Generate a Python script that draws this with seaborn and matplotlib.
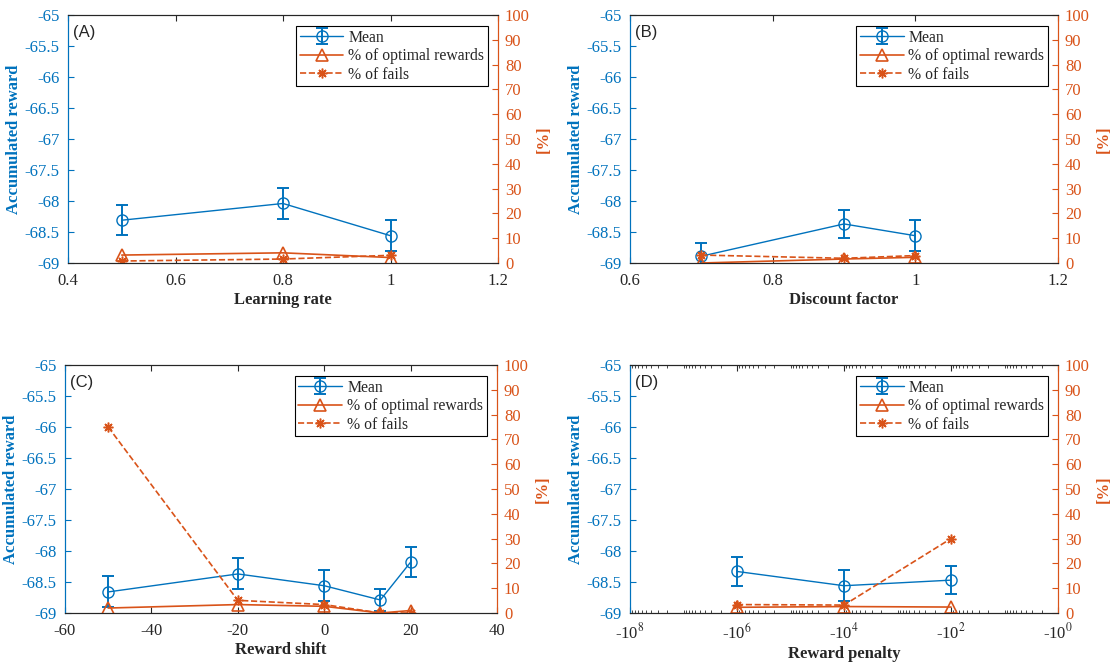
import matplotlib.pyplot as plt
import numpy as np
import seaborn as sns
from matplotlib.ticker import FixedLocator, NullFormatter

BLUE = '#0072BD'
ORANGE = '#D95319'

# (A) learning rate
lr_x = [0.5, 0.8, 1.0]
lr_mean = [-68.31, -68.04, -68.56]
lr_err = [0.245, 0.245, 0.25]
lr_optimal = [3.2, 4.1, 2.2]
lr_fails = [0.8, 1.6, 3.1]

# (B) discount factor
df_x = [0.7, 0.9, 1.0]
df_mean = [-68.89, -68.37, -68.56]
df_err = [0.21, 0.23, 0.25]
df_optimal = [0.0, 1.6, 2.3]
df_fails = [3.2, 1.9, 3.0]

# (C) reward shift
rs_x = [-50, -20, 0, 13, 20]
rs_mean = [-68.66, -68.37, -68.56, -68.79, -68.18]
rs_err = [0.25, 0.25, 0.25, 0.17, 0.24]
rs_optimal = [2.0, 3.4, 2.7, 0.0, 1.0]
rs_fails = [75.0, 5.1, 3.4, 0.0, 0.0]

# (D) reward penalty
rp_x = [-1e6, -1e4, -1e2]
rp_mean = [-68.33, -68.56, -68.47]
rp_err = [0.23, 0.25, 0.23]
rp_optimal = [2.3, 2.6, 2.4]
rp_fails = [3.4, 3.2, 30.0]

sns.set_style('ticks')
plt.rcParams['font.family'] = ['Liberation Serif', 'DejaVu Serif']
plt.rcParams['mathtext.fontset'] = 'stix'
plt.rcParams['axes.unicode_minus'] = False

fig = plt.figure(figsize=(11.14, 6.66), dpi=100)

# axes boxes in figure fractions (pixels / figure size)
positions = [
    [68 / 1114, 403 / 666, 430 / 1114, 248 / 666],
    [630 / 1114, 403 / 666, 428 / 1114, 248 / 666],
    [65 / 1114, 53 / 666, 432 / 1114, 248 / 666],
    [630 / 1114, 53 / 666, 428 / 1114, 248 / 666],
]


def neg_log(x):
    with np.errstate(divide='ignore', invalid='ignore'):
        return -np.log10(np.clip(-np.asarray(x, dtype=float), 1e-300, None))


def neg_log_inv(y):
    return -10.0 ** (-np.asarray(y, dtype=float))


def draw_panel(pos, tag, xlabel, x, mean, err, optimal, fails, log_x=False):
    ax = fig.add_axes(pos)
    ax2 = ax.twinx()

    if log_x:
        ax.set_xscale('function', functions=(neg_log, neg_log_inv))

    eb = ax.errorbar(x, mean, yerr=err, fmt='-o', color=BLUE, mfc='none',
                     mec=BLUE, ms=8, lw=1, elinewidth=1.4, capsize=4,
                     capthick=1.4)
    sns.lineplot(x=x, y=optimal, ax=ax2, color=ORANGE, lw=1.2,
                 marker='^', ms=9, mfc='none', mec=ORANGE, mew=1.2,
                 label='% of optimal rewards', legend=False)
    sns.lineplot(x=x, y=fails, ax=ax2, color=ORANGE, lw=1.2,
                 linestyle='--', marker=(8, 2, 0), ms=7, mec=ORANGE,
                 mew=1.1, label='% of fails', legend=False)

    ax.set_ylim(-69, -65)
    ax.set_yticks(np.arange(-69, -64.9, 0.5))
    ax.set_yticklabels(['%g' % v for v in np.arange(-69, -64.9, 0.5)])
    ax2.set_ylim(0, 100)
    ax2.set_yticks(np.arange(0, 101, 10))

    if log_x:
        major = [-1e8, -1e6, -1e4, -1e2, -1]
        ax.set_xlim(-1e8, -1)
        ax.xaxis.set_major_locator(FixedLocator(major))
        ax.set_xticklabels([r'-10$^{%d}$' % p for p in [8, 6, 4, 2, 0]])
        minor = [-k * 10.0 ** d for d in range(0, 8) for k in range(2, 10)]
        minor += [-10.0 ** d for d in [1, 3, 5, 7]]
        ax.xaxis.set_minor_locator(FixedLocator(minor))
        ax.xaxis.set_minor_formatter(NullFormatter())
    elif tag == '(A)':
        ax.set_xlim(0.4, 1.2)
        ax.set_xticks([0.4, 0.6, 0.8, 1.0, 1.2])
        ax.set_xticklabels(['0.4', '0.6', '0.8', '1', '1.2'])
    elif tag == '(B)':
        ax.set_xlim(0.6, 1.2)
        ax.set_xticks([0.6, 0.8, 1.0, 1.2])
        ax.set_xticklabels(['0.6', '0.8', '1', '1.2'])
    else:
        ax.set_xlim(-60, 40)
        ax.set_xticks(np.arange(-60, 41, 20))

    ax.set_xlabel(xlabel, fontsize=12, fontweight='bold', color='#262626',
                  labelpad=2)
    ax.set_ylabel('Accumulated reward', fontsize=12, fontweight='bold',
                  color=BLUE, labelpad=2)
    ax2.set_ylabel('[%]', fontsize=12, fontweight='bold', color=ORANGE,
                   labelpad=4)

    ax.tick_params(axis='x', direction='in', top=True, bottom=True,
                   labelsize=12, colors='#262626', length=4, width=0.8,
                   pad=7)
    ax.tick_params(axis='x', which='minor', direction='in', top=True,
                   bottom=True, length=2.5, width=0.6)
    ax.tick_params(axis='y', direction='in', left=True, right=False,
                   labelsize=12, colors=BLUE, length=4, width=0.8, pad=6)
    ax2.tick_params(axis='y', direction='in', right=True, labelsize=12,
                    colors=ORANGE, length=4, width=0.8, pad=5)
    ax2.tick_params(axis='x', which='both', top=False, bottom=False)

    for a in (ax, ax2):
        for s in a.spines.values():
            s.set_linewidth(0.8)
            s.set_color('#262626')
        a.spines['left'].set_color(BLUE)
        a.spines['right'].set_color(ORANGE)

    ax.text(0.012, 0.96, tag, transform=ax.transAxes, fontsize=12,
            family='Liberation Sans', va='top', ha='left')

    handles = [eb] + ax2.get_lines()[:2]
    labels = ['Mean', '% of optimal rewards', '% of fails']
    leg = ax2.legend(handles, labels, loc='upper right',
                     bbox_to_anchor=(0.977, 0.956), fontsize=11.3,
                     frameon=True, fancybox=False, framealpha=1,
                     edgecolor='black', borderpad=0.25, labelspacing=0.15,
                     handlelength=2.8, handletextpad=0.3, borderaxespad=0)
    leg.get_frame().set_linewidth(0.8)


draw_panel(positions[0], '(A)', 'Learning rate', lr_x, lr_mean, lr_err,
           lr_optimal, lr_fails)
draw_panel(positions[1], '(B)', 'Discount factor', df_x, df_mean, df_err,
           df_optimal, df_fails)
draw_panel(positions[2], '(C)', 'Reward shift', rs_x, rs_mean, rs_err,
           rs_optimal, rs_fails)
draw_panel(positions[3], '(D)', 'Reward penalty', rp_x, rp_mean, rp_err,
           rp_optimal, rp_fails, log_x=True)

fig.savefig('out.png', dpi=100)
